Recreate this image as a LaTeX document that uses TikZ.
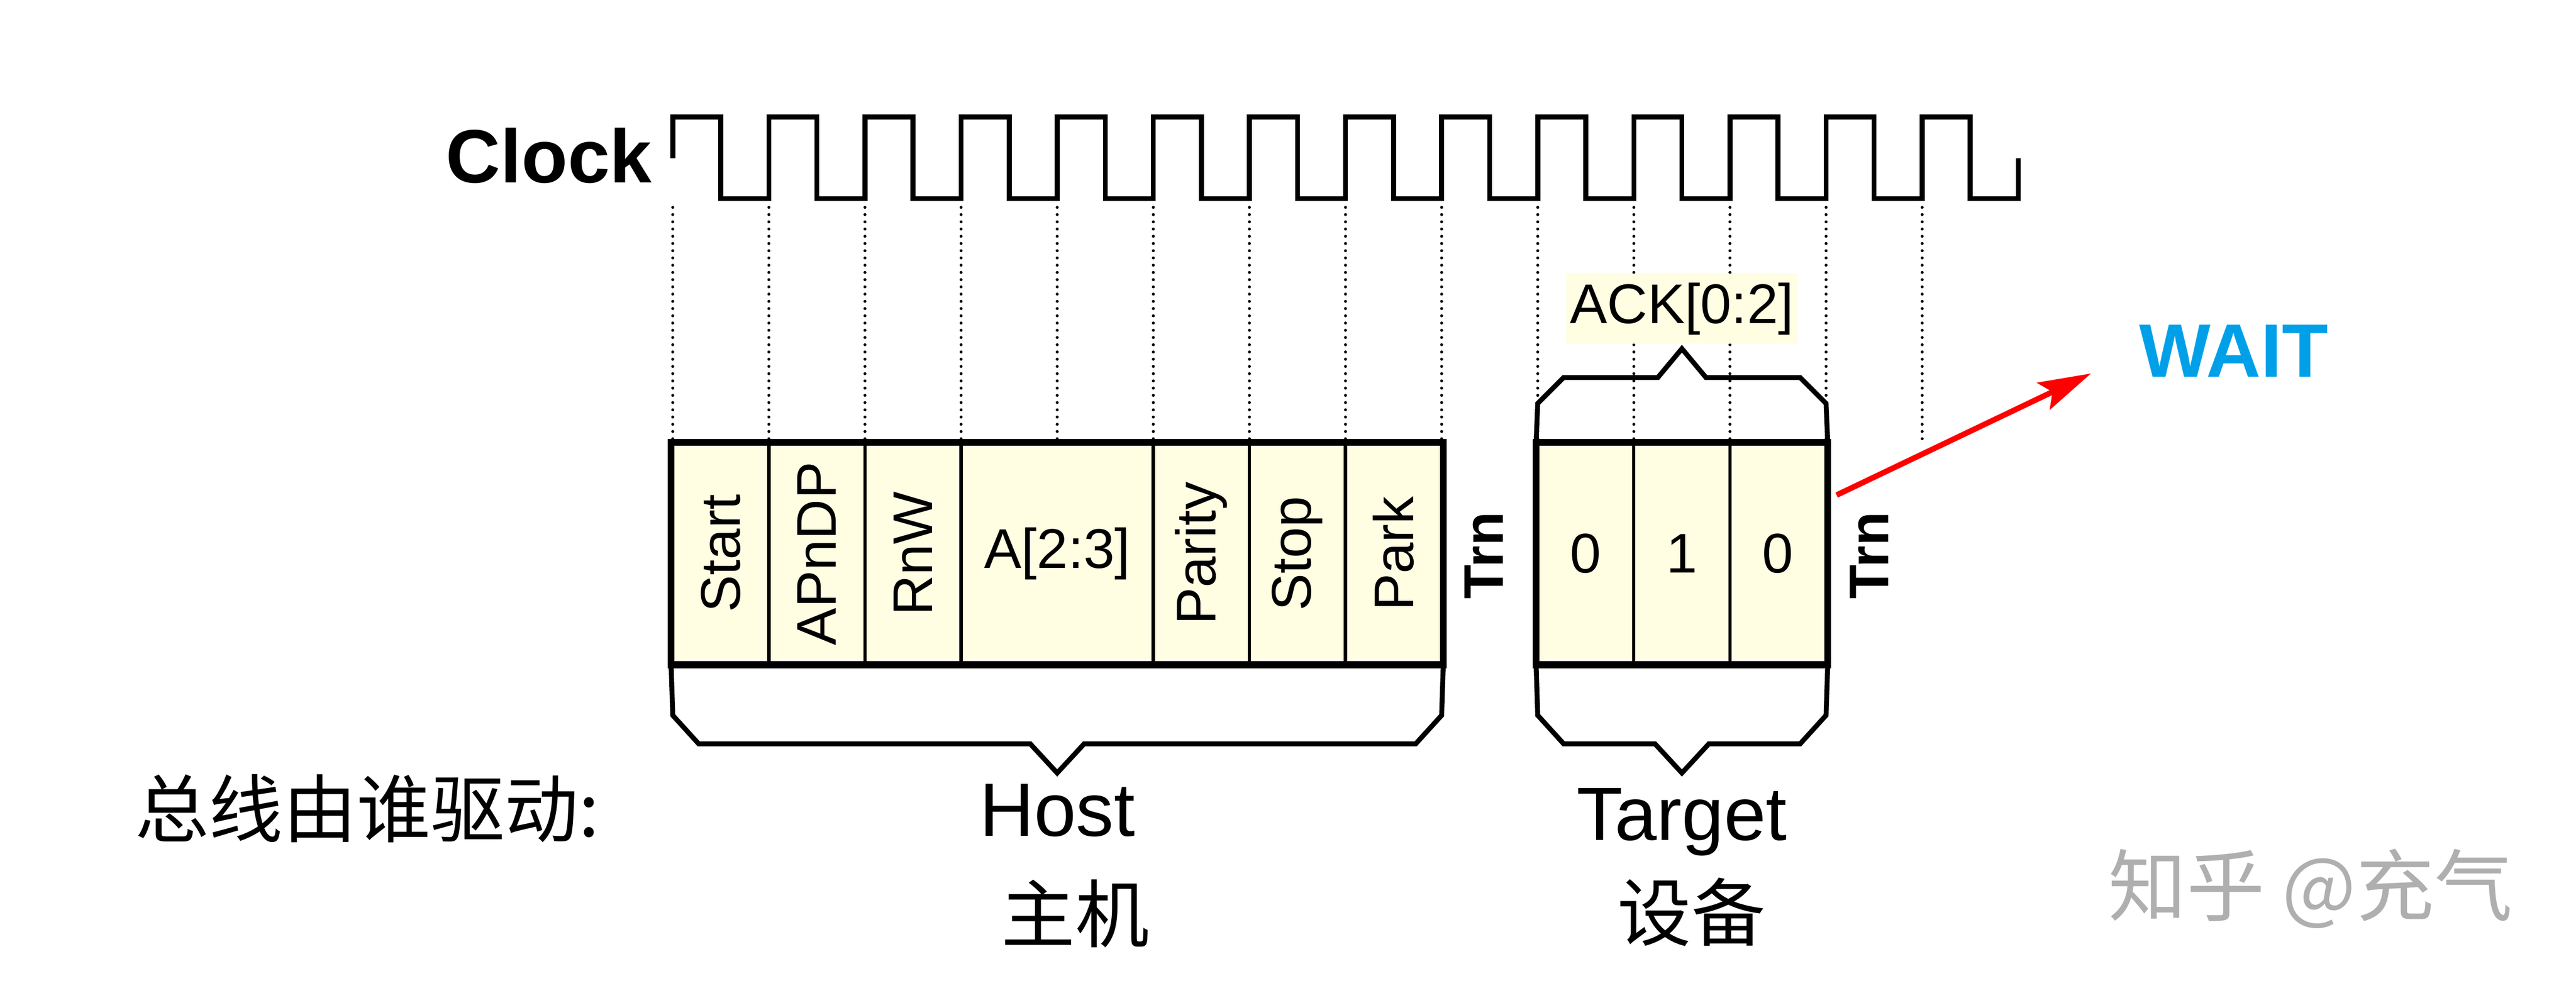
\documentclass[tikz,border=0pt]{standalone}
\usepackage{fontspec}
\setmainfont{Liberation Sans}
\newfontfamily\cjk{Noto Sans CJK SC}
\usepackage{tikz}
\usetikzlibrary{arrows.meta}
\usepackage{xcolor}
\definecolor{CellFill}{RGB}{255,253,226}
\definecolor{WaitBlue}{RGB}{0,160,233}
\definecolor{MarkGray}{RGB}{175,175,175}
\tikzstyle{CellBox}=[draw=black,fill=CellFill,line width=1pt,inner sep=0pt,
minimum width=29.25pt,minimum height=66.6pt,font=\fontsize{17}{20}\selectfont]
\tikzstyle{FrameLine}=[line width=2.1pt]
\tikzstyle{BraceLine}=[line width=1.5pt,line join=miter]
\tikzstyle{ClockLine}=[line width=1.5pt]
\tikzstyle{TickLine}=[line width=0.9pt,line cap=round,dash pattern=on 0pt off 2.2pt]
\tikzstyle{TrnText}=[rotate=90,inner sep=0pt,font=\bfseries\fontsize{17}{20}\selectfont]
\tikzstyle{BigText}=[inner sep=0pt,font=\fontsize{23}{27}\selectfont]
\tikzstyle{CjkText}=[inner sep=0pt,font=\cjk\fontsize{22.5}{26}\selectfont]
\tikzstyle{WaitArrow}=[red,line width=1.7pt,-{Stealth[length=16pt,width=9pt,inset=3pt]},
shorten >=16pt]

\begin{document}
\begin{tikzpicture}[x=29.25pt,y=29.25pt]
        \useasboundingbox (-7.0,-3.43) rectangle (19.803,6.897);
        % clock
        \draw[ClockLine] (0,5.25) -- (0,5.68)
            \foreach \k in {0,...,12}{ -- (\k+0.5,5.68) -- (\k+0.5,4.83) -- (\k+1,4.83) -- (\k+1,5.68)}
            -- (13.5,5.68) -- (13.5,4.83) -- (14,4.83) -- (14,5.25);
        \node[BigText,font=\bfseries\fontsize{23}{27}\selectfont,anchor=east](clk)at(-0.21,5.28){Clock};
        \foreach \k in {0,...,13}
            \draw[TickLine] (\k,4.74) -- (\k,2.277);
        % host
        \node[CellBox](start)at(0.5,1.1385){\rotatebox{90}{Start}};
        \node[CellBox](apndp)at(1.5,1.1385){\rotatebox{90}{APnDP}};
        \node[CellBox](rnw)at(2.5,1.1385){\rotatebox{90}{RnW}};
        \node[CellBox,minimum width=58.5pt](addr)at(4,1.1385){A[2:3]};
        \node[CellBox](parity)at(5.5,1.1385){\rotatebox{90}{Parity}};
        \node[CellBox](stop)at(6.5,1.1385){\rotatebox{90}{Stop}};
        \node[CellBox](park)at(7.5,1.1385){\rotatebox{90}{Park}};
        \draw[FrameLine](start.south west) rectangle (park.north east);
        \node[TrnText](trna)at(8.44,1.12){Trn};
        % target
        \node[CellBox](ack0)at(9.5,1.1385){0};
        \node[CellBox](ack1)at(10.5,1.1385){1};
        \node[CellBox](ack2)at(11.5,1.1385){0};
        \draw[FrameLine](ack0.south west) rectangle (ack2.north east);
        \node[TrnText](trnb)at(12.45,1.12){Trn};
        % braces
        \draw[BraceLine](start.south west) -- (0,-0.544) -- (0.27,-0.841) -- (3.72,-0.841) -- (4,-1.144)
            -- (4.28,-0.841) -- (7.73,-0.841) -- (8,-0.544) -- (park.south east);
        \draw[BraceLine](ack0.south west) -- (9,-0.544) -- (9.27,-0.841) -- (10.22,-0.841) -- (10.5,-1.144)
            -- (10.78,-0.841) -- (11.73,-0.841) -- (12,-0.544) -- (ack2.south east);
        \draw[BraceLine](ack0.north west) -- (9,2.70) -- (9.27,2.97) -- (10.25,2.97) -- (10.5,3.27)
            -- (10.75,2.97) -- (11.73,2.97) -- (12,2.70) -- (ack2.north east);
        \node[fill=CellFill,inner sep=0pt,minimum width=70.3pt,minimum height=21.2pt,
            font=\fontsize{17}{20}\selectfont](acklbl)at(10.5,3.686){ACK[0:2]};
        % wait
        \node[BigText,font=\bfseries\fontsize{23}{27}\selectfont,text=WaitBlue](wait)at(16.24,3.248){WAIT};
        \coordinate(ackout)at(12.11,1.747);
        \draw[WaitArrow](ackout) -- (wait.west);
        % labels
        \node[BigText,anchor=base](host)at(4,-1.803){Host};
        \node[BigText,anchor=base](target)at(10.5,-1.845){Target};
        \node[CjkText,anchor=west](bus)at(-5.6,-1.513){总线由谁驱动:};
        \node[CjkText](hostzh)at(4.19,-2.607){主机};
        \node[CjkText](tgtzh)at(10.6,-2.59){设备};
        \node[CjkText,font=\cjk\fontsize{23.8}{28}\selectfont,text=MarkGray,anchor=west](mark)at(14.93,-2.35){知乎 @充气};
    \end{tikzpicture}
\end{document}
